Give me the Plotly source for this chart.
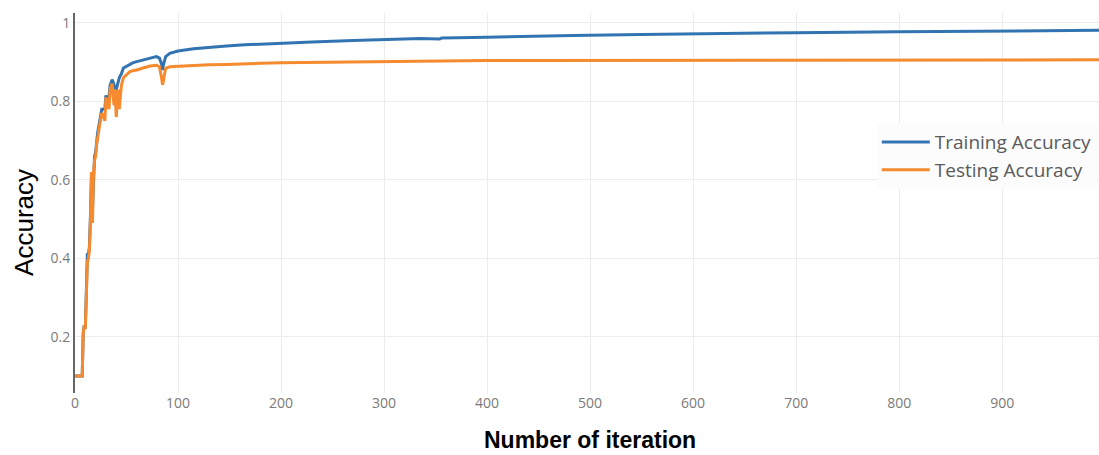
import plotly.graph_objects as go

iterations = [0, 7, 8, 9, 10, 11, 12, 13, 14, 15, 16, 17, 18, 19, 20, 21, 22, 24, 26, 28,
              29, 30, 32, 33, 34, 36, 37, 38, 39, 40, 41, 42, 43, 44, 45, 47, 50, 53, 56, 60,
              66, 73, 79, 82, 84, 85, 86, 88, 92, 100, 115, 130, 147, 165, 180, 200, 230, 270,
              300, 316, 335, 354, 356, 400, 450, 483, 550, 600, 655, 700, 800, 900, 994]

training_accuracy = [0.10, 0.10, 0.21, 0.23, 0.22, 0.31, 0.41, 0.41, 0.43, 0.51, 0.61, 0.53, 0.63,
                     0.66, 0.67, 0.70, 0.72, 0.75, 0.78, 0.78, 0.78, 0.815, 0.80, 0.81, 0.84, 0.855,
                     0.85, 0.84, 0.835, 0.83, 0.84, 0.855, 0.86, 0.865, 0.87, 0.885, 0.89, 0.893,
                     0.898, 0.901, 0.906, 0.91, 0.914, 0.91, 0.895, 0.88, 0.895, 0.914, 0.922,
                     0.928, 0.934, 0.938, 0.941, 0.944, 0.946, 0.948, 0.951, 0.955, 0.957, 0.959,
                     0.960, 0.959, 0.961, 0.963, 0.966, 0.968, 0.970, 0.972, 0.974, 0.975, 0.977,
                     0.979, 0.981]

testing_accuracy = [0.10, 0.10, 0.21, 0.23, 0.22, 0.30, 0.39, 0.40, 0.42, 0.50, 0.62, 0.49, 0.62,
                    0.65, 0.66, 0.69, 0.71, 0.74, 0.77, 0.76, 0.75, 0.81, 0.79, 0.78, 0.83, 0.845,
                    0.81, 0.79, 0.83, 0.76, 0.80, 0.83, 0.78, 0.82, 0.84, 0.86, 0.867, 0.875,
                    0.878, 0.88, 0.885, 0.89, 0.892, 0.888, 0.86, 0.842, 0.855, 0.884, 0.888,
                    0.889, 0.892, 0.893, 0.894, 0.896, 0.897, 0.898, 0.899, 0.900, 0.901, 0.902,
                    0.903, 0.902, 0.903, 0.904, 0.904, 0.904, 0.904, 0.904, 0.904, 0.905, 0.905,
                    0.905, 0.906]

x_tick_values = [0, 100, 200, 300, 400, 500, 600, 700, 800, 900]
y_tick_values = [0.2, 0.4, 0.6, 0.8, 1.0]
y_tick_labels = ["0.2", "0.4", "0.6", "0.8", "1"]

fig = go.Figure()
fig.add_trace(go.Scatter(x=iterations, y=training_accuracy, mode="lines",
                         name="Training Accuracy",
                         line=dict(color="#3274b2", width=3)))
fig.add_trace(go.Scatter(x=iterations, y=testing_accuracy, mode="lines",
                         name="Testing Accuracy",
                         line=dict(color="#f58a2e", width=3)))

tick_font = dict(family="Open Sans", size=14, color="#7a7a7a")

fig.update_layout(
    width=1099, height=455,
    margin=dict(l=75, r=0, t=13, b=62),
    paper_bgcolor="white", plot_bgcolor="white",
    showlegend=True,
    legend=dict(x=0.783, y=0.71, xanchor="left", yanchor="top",
                bgcolor="#fcfcfc", font=dict(family="Open Sans", size=19, color="#5a5a5a"),
                itemwidth=48, tracegroupgap=0),
    xaxis=dict(range=[0, 994], tickvals=x_tick_values, showgrid=True, gridcolor="#ececec",
               gridwidth=1, zeroline=False, showline=False, ticks="", tickfont=tick_font),
    yaxis=dict(range=[0.057, 1.025], tickvals=y_tick_values, ticktext=y_tick_labels,
               showgrid=True, gridcolor="#ececec", gridwidth=1, zeroline=False,
               showline=True, linecolor="#666666", linewidth=2, ticks="", tickfont=tick_font),
    annotations=[
        dict(text="Accuracy", xref="paper", yref="paper", x=-0.0499, y=0.45,
             xanchor="center", yanchor="middle", textangle=-90, showarrow=False,
             font=dict(family="Liberation Sans", size=26, color="black")),
        dict(text="Number of iteration", xref="paper", yref="paper", x=0.503, y=-0.124,
             xanchor="center", yanchor="middle", showarrow=False,
             font=dict(family="Liberation Sans", size=23, color="black", weight="bold")),
    ],
)

fig.write_html("out.html")
